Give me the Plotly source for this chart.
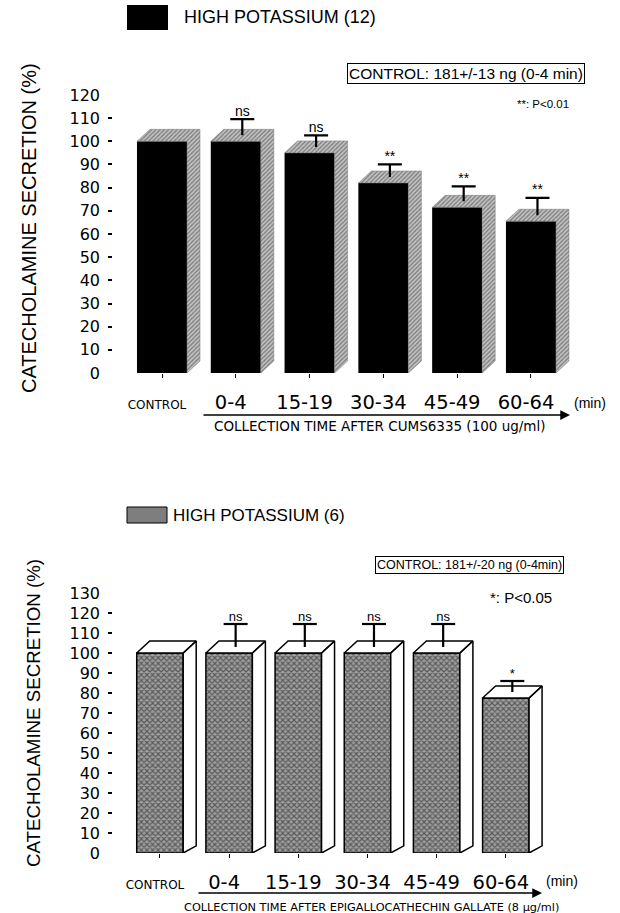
import plotly.graph_objects as go

W, H = 620, 913

# ---------------- data ----------------
categories = ["CONTROL", "0-4", "15-19", "30-34", "45-49", "60-64"]

cums_mean = [100, 100, 95, 82, 71.5, 65.5]
cums_sem = [0, 7, 5, 5.5, 6.5, 7.5]
cums_sig = ["", "ns", "ns", "**", "**", "**"]

egcg_mean = [100, 100, 100, 100, 100, 77.5]
egcg_sem = [0, 11.5, 11.5, 11.5, 11.5, 5.5]
egcg_sig = ["", "ns", "ns", "ns", "ns", "*"]

top_ticks = list(range(0, 121, 10))
bot_ticks = list(range(0, 131, 10))

FONT = "Liberation Sans"
TICKFONT = "DejaVu Sans"


def px(x):
    return x / W


def py(y):
    return 1 - y / H


fig = go.Figure()


def panel(idx, mean, sem, sig, xdom_px, xrange_, ydom_px, yrange_, ticks, bw, depth_px,
          style, sigsize):
    xa = "x" if idx == 1 else "x2"
    ya = "y" if idx == 1 else "y2"
    n = len(mean)
    xs = list(range(n))
    sx = (xdom_px[1] - xdom_px[0]) / (xrange_[1] - xrange_[0])
    sy = (ydom_px[1] - ydom_px[0]) / (yrange_[1] - yrange_[0])
    dxu = depth_px[0] / sx
    dyu = depth_px[1] / sy
    capw = 12 / sx

    if style == "black":
        marker = dict(color="black", line=dict(width=0))
    else:
        marker = dict(color="#7a7a7a",
                      pattern=dict(shape="x", fgcolor="#111111", bgcolor="#a0a0a0",
                                   size=4, solidity=0.5, fillmode="overlay"),
                      line=dict(color="black", width=1.5))
    fig.add_trace(go.Bar(x=xs, y=mean, width=bw, marker=marker, xaxis=xa, yaxis=ya,
                         showlegend=False, hoverinfo="skip"))

    px_list, py_list = [], []
    for i, m in zip(xs, mean):
        x0, x1 = i - bw / 2, i + bw / 2
        if style == "black":
            poly = [(x0, m), (x0 + dxu, m + dyu), (x1 + dxu, m + dyu),
                    (x1 + dxu, dyu), (x1, 0), (x1, m), (x0, m)]
            for p in poly:
                px_list.append(p[0]); py_list.append(p[1])
            px_list.append(None); py_list.append(None)
        else:
            top = [(x0, m), (x0 + dxu, m + dyu), (x1 + dxu, m + dyu), (x1, m), (x0, m)]
            side = [(x1, m), (x1 + dxu, m + dyu), (x1 + dxu, dyu * 0.6), (x1, 0), (x1, m)]
            for poly in (top, side):
                for p in poly:
                    px_list.append(p[0]); py_list.append(p[1])
                px_list.append(None); py_list.append(None)
    if style == "black":
        fig.add_trace(go.Scatter(x=px_list, y=py_list, mode="lines", fill="toself",
                                 fillcolor="#9a9a9a",
                                 fillpattern=dict(shape="/", fgcolor="#3a3a3a", bgcolor="#c4c4c4",
                                                  size=3, solidity=0.45),
                                 line=dict(width=0.5, color="#777777"),
                                 xaxis=xa, yaxis=ya, showlegend=False, hoverinfo="skip"))
    else:
        fig.add_trace(go.Scatter(x=px_list, y=py_list, mode="lines", fill="toself",
                                 fillcolor="white", line=dict(width=1.5, color="black"),
                                 xaxis=xa, yaxis=ya, showlegend=False, hoverinfo="skip"))

    # error bars (upper half only) from the centre of the top face
    lx, ly, tx, ty = [], [], [], []
    for i, m, s in zip(xs[1:], mean[1:], sem[1:]):
        xc = i + dxu / 2
        base = m + dyu / 2
        cap = base + s
        lx += [xc, xc, None, xc - capw, xc + capw, None]
        ly += [base, cap, None, cap, cap, None]
        tx.append(xc)
        ty.append(cap)
    fig.add_trace(go.Scatter(x=lx, y=ly, mode="lines", line=dict(color="black", width=2.2),
                             xaxis=xa, yaxis=ya, showlegend=False, hoverinfo="skip"))
    fig.add_trace(go.Scatter(x=tx, y=ty, mode="text",
                             text=sig[1:], textposition="top center",
                             textfont=dict(family=FONT, size=sigsize, color="black"),
                             xaxis=xa, yaxis=ya, showlegend=False, hoverinfo="skip"))

    ticktext = ['<span style="font-size:12px">%s</span>' % c if c == "CONTROL" else c
                for c in categories]
    axx = dict(domain=[px(xdom_px[0]), px(xdom_px[1])], range=list(xrange_),
               tickvals=xs, ticktext=ticktext, ticks="outside", ticklen=4, tickwidth=1,
               tickcolor="black", showline=False, showgrid=False, zeroline=False,
               tickfont=dict(family=TICKFONT, size=19.5, color="black"),
               ticklabelstandoff=8, ticklabelshift=-5, anchor=ya, automargin=False)
    axy = dict(domain=[py(ydom_px[1]), py(ydom_px[0])], range=list(yrange_),
               tickvals=ticks, ticks="", showline=False, showgrid=False, zeroline=False,
               tickfont=dict(family=TICKFONT, size=16, color="black"),
               ticklabelstandoff=12, anchor=xa, automargin=False,
               minor=dict(tickvals=ticks[1:-1], ticks="outside", ticklen=4, tickwidth=1.5,
                          tickcolor="black", showgrid=False))
    return axx, axy


ax1, ay1 = panel(1, cums_mean, cums_sem, cums_sig, (113, 590), (-0.664, 5.80),
                 (83.4, 373), (0, 125), top_ticks, 0.678, (13, 12), "black", 14)
ax2, ay2 = panel(2, egcg_mean, egcg_sem, egcg_sig, (113, 575), (-0.679, 6.0),
                 (573, 853), (0, 140), bot_ticks, 0.672, (13, 12), "pattern", 13)

annotations = []
shapes = []


def text(x, y, s, size, xanchor="center", family=FONT, **kw):
    annotations.append(dict(x=px(x), y=py(y), xref="paper", yref="paper", text=s,
                            showarrow=False, xanchor=xanchor, yanchor="middle",
                            font=dict(family=family, size=size, color="black"), **kw))


shapes.append(dict(type="rect", xref="paper", yref="paper", x0=px(127), x1=px(168),
                   y0=py(30), y1=py(5), fillcolor="black", line=dict(width=0)))
text(182, 17, "HIGH POTASSIUM (12)", 18, xanchor="left")
shapes.append(dict(type="rect", xref="paper", yref="paper", x0=px(127), x1=px(167),
                   y0=py(523), y1=py(507), fillcolor="#7e7e7e", line=dict(width=1, color="black")))
text(171, 515, "HIGH POTASSIUM (6)", 17, xanchor="left")

text(465.5, 73, "CONTROL: 181+/-13 ng (0-4 min)", 15.5, bordercolor="black", borderwidth=1,
     borderpad=1)
text(543, 104, "**: P<0.01", 11.5)
text(469.5, 564.5, "CONTROL: 181+/-20 ng (0-4min)", 12.5, bordercolor="black", borderwidth=1,
     borderpad=1)
text(521, 597, "*: P<0.05", 15)

text(29, 228, "CATECHOLAMINE SECRETION (%)", 20, textangle=-90)
text(33, 713, "CATECHOLAMINE SECRETION (%)", 18.7, textangle=-90)

text(590, 403, "(min)", 14)
text(562, 881, "(min)", 14)


def arrow(x0, x1, y):
    annotations.append(dict(x=px(x1), y=py(y), xref="paper", yref="paper",
                            ax=-(x1 - x0), ay=0, axref="pixel", ayref="pixel",
                            text="", showarrow=True, arrowhead=2,
                            arrowsize=1.3, arrowwidth=1.5, arrowcolor="black"))


arrow(202, 570, 415)
arrow(197, 542, 893)
text(380, 426, "COLLECTION TIME AFTER CUMS6335 (100 ug/ml)", 13.5, family=TICKFONT)
text(371, 907, "COLLECTION TIME AFTER EPIGALLOCATHECHIN GALLATE (8 µg/ml)", 11.3, family=TICKFONT)

fig.update_layout(
    width=W, height=H, margin=dict(l=0, r=0, t=0, b=0, autoexpand=False),
    paper_bgcolor="white", plot_bgcolor="white",
    font=dict(family=FONT, color="black"),
    xaxis=ax1, yaxis=ay1, xaxis2=ax2, yaxis2=ay2,
    annotations=annotations, shapes=shapes, showlegend=False, barmode="overlay",
)

fig.write_html("out.html")
